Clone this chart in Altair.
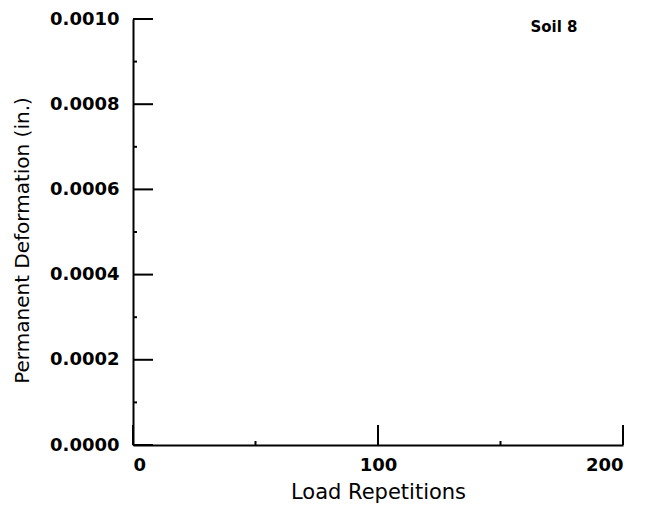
import altair as alt
import pandas as pd

# Series (the reference panel shows no plotted data points)
repetitions = []
deformation = []

# Axis ticks
x_major = [0, 100, 200]
x_minor = [50, 150]
y_major = [0.0, 0.0002, 0.0004, 0.0006, 0.0008, 0.0010]
y_minor = [0.0001, 0.0003, 0.0005, 0.0007, 0.0009]

# Annotation
note_text = ["Soil 8"]
note_x = [171.8]
note_y = [0.000981]

W, H = 490, 426
FONT = "DejaVu Sans"

xs = alt.Scale(domain=[0, 200], nice=False, zero=False)
ys = alt.Scale(domain=[0, 0.001], nice=False, zero=False)

data_df = pd.DataFrame({"repetitions": pd.Series(repetitions, dtype=float),
                        "deformation": pd.Series(deformation, dtype=float)})

base = alt.Chart(data_df).mark_point(filled=True, color="black", size=20).encode(
    x=alt.X("repetitions:Q", scale=xs,
            axis=alt.Axis(title="Load Repetitions", values=x_major, ticks=False,
                          grid=False, domainColor="black", domainWidth=2,
                          labelFont=FONT, labelFontSize=18, labelFontWeight="bold",
                          labelColor="black", labelPadding=11,
                          titleFont=FONT, titleFontSize=21,
                          titleFontWeight="normal", titleColor="black",
                          titleX=245, titleY=47, titleBaseline="middle",
                          titleAlign="center")),
    y=alt.Y("deformation:Q", scale=ys,
            axis=alt.Axis(title="Permanent Deformation (in.)", values=y_major,
                          format=".4f", ticks=False, grid=False,
                          domainColor="black", domainWidth=2,
                          labelFont=FONT, labelFontSize=18, labelFontWeight="bold",
                          labelColor="black", labelPadding=14,
                          titleFont=FONT, titleFontSize=20,
                          titleFontWeight="normal", titleColor="black",
                          titleX=-111, titleY=221, titleAngle=-90,
                          titleBaseline="middle", titleAlign="center")),
)

ymaj = alt.Chart(pd.DataFrame({"v": y_major})).mark_rule(color="black", strokeWidth=2).encode(
    y=alt.Y("v:Q", scale=ys), x=alt.value(0), x2=alt.value(20))
ymin = alt.Chart(pd.DataFrame({"v": y_minor})).mark_rule(color="black", strokeWidth=2).encode(
    y=alt.Y("v:Q", scale=ys), x=alt.value(0), x2=alt.value(4))
xmaj = alt.Chart(pd.DataFrame({"v": x_major})).mark_rule(color="black", strokeWidth=2).encode(
    x=alt.X("v:Q", scale=xs), y=alt.value(H), y2=alt.value(H - 20))
xmin = alt.Chart(pd.DataFrame({"v": x_minor})).mark_rule(color="black", strokeWidth=2).encode(
    x=alt.X("v:Q", scale=xs), y=alt.value(H), y2=alt.value(H - 4))

note = alt.Chart(pd.DataFrame({"t": note_text, "x": note_x, "y": note_y})).mark_text(
    font=FONT, fontSize=15, fontWeight="bold", color="black",
    align="center", baseline="middle").encode(
    x=alt.X("x:Q", scale=xs), y=alt.Y("y:Q", scale=ys), text="t:N")

chart = alt.layer(base, ymaj, ymin, xmaj, xmin, note).properties(
    width=W, height=H,
    autosize=alt.AutoSizeParams(type="none"),
    padding={"left": 125, "top": 11, "right": 29, "bottom": 58},
).configure(background="white", view=alt.ViewConfig(stroke=None))

chart.save("out.html", embed_options={"renderer": "svg", "actions": False})
